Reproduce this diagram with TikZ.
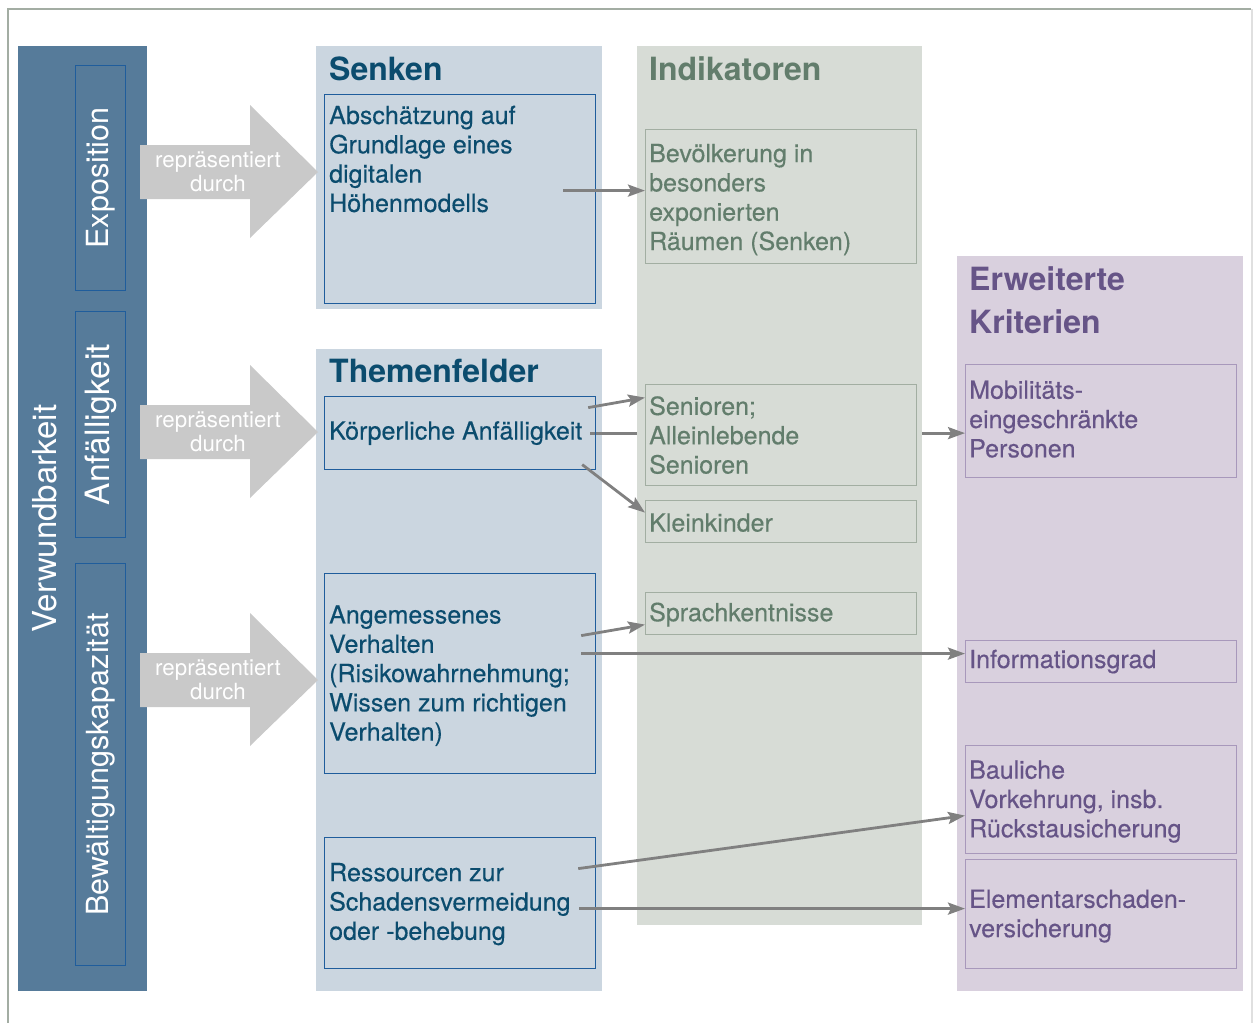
\documentclass[tikz,border=0pt]{standalone}
\usepackage{fontspec}
\setmainfont{TeX Gyre Heros}
\newfontfamily\heavyfam[FakeBold=0.35]{TeX Gyre Heros}
\usetikzlibrary{arrows.meta,calc}

\definecolor{framegreen}{HTML}{A3ADA3}
\definecolor{colblue}{HTML}{567B9A}
\definecolor{edgeblue}{HTML}{1F5D9C}
\definecolor{txtblue}{HTML}{0B4C6E}
\definecolor{senkbg}{HTML}{CBD6E0}
\definecolor{indbg}{HTML}{D7DCD6}
\definecolor{indtxt}{HTML}{627D6C}
\definecolor{indedge}{HTML}{A2AEA2}
\definecolor{erwbg}{HTML}{D9D0DE}
\definecolor{erwtxt}{HTML}{665487}
\definecolor{erwedge}{HTML}{A898BB}
\definecolor{blockgray}{HTML}{C9C9C9}
\definecolor{conngray}{HTML}{808080}

\pgfdeclarelayer{background}
\pgfdeclarelayer{behind}
\pgfsetlayers{background,behind,main}

\begin{document}
\begin{tikzpicture}[x=1pt,y=-1pt,
  bodyfont/.style={font=\heavyfam\fontsize{25}{29.3}\selectfont},
  titlefont/.style={font=\bfseries\fontsize{32}{43}\selectfont},
  box/.style={draw, line width=1.2pt, minimum width=271pt, inner sep=0pt, anchor=north west},
  themebox/.style={box, draw=edgeblue},
  indbox/.style={box, draw=indedge},
  erwbox/.style={box, draw=erwedge},
  colbox/.style={draw=edgeblue, line width=1.2pt, minimum width=50pt, inner sep=0pt, anchor=north west},
  themetext/.style={bodyfont, anchor=west, align=left, inner sep=0pt, text=txtblue},
  indtext/.style={bodyfont, anchor=west, align=left, inner sep=0pt, text=indtxt},
  erwtext/.style={bodyfont, anchor=west, align=left, inner sep=0pt, text=erwtxt},
  coltext/.style={rotate=90, text=white, inner sep=0pt, font=\fontsize{30.5}{34}\selectfont},
  reptext/.style={text=white, align=center, inner sep=0pt, font=\fontsize{22.3}{24}\selectfont},
  conn/.style={draw=conngray, line width=2.8pt, -{Stealth[length=17pt,width=12pt,inset=3pt]}}
]
\useasboundingbox (0,0) rectangle (1253,1023);

% outer frame
\draw[framegreen, line width=2.2pt] (8,1023) -- (8,9) -- (1251,9);
\draw[black!12, line width=1.2pt] (1252,9) -- (1252,1023);

% column backgrounds
\begin{pgfonlayer}{background}
  \fill[senkbg] (316,46) rectangle (602,309);
  \fill[senkbg] (316,349) rectangle (602,991);
  \fill[erwbg] (957,256) rectangle (1243,991);
\end{pgfonlayer}
\fill[indbg] (637,46) rectangle (922,925);

% left column: Verwundbarkeit
\fill[colblue] (18,46) rectangle (147,991);
\node[coltext, font=\fontsize{33}{36}\selectfont] (verw) at (45,518.5) {Verwundbarkeit};
\node[colbox, minimum height=225pt] (expo) at (75,65) {};
\node[colbox, minimum height=226pt] (anfael) at (75,311) {};
\node[colbox, minimum height=402pt] (bewael) at (75,563) {};
\node[coltext] (expotxt) at (expo.center) {Exposition};
\node[coltext, font=\fontsize{33.5}{36}\selectfont] (anfaeltxt) at (anfael.center) {Anfälligkeit};
\node[coltext] (bewaeltxt) at (bewael.center) {Bewältigungskapazität};

% block arrows "repräsentiert durch"
\foreach \dy [count=\i] in {0,260,508} {
  \fill[blockgray, shift={(0,\dy)}]
    (140,145) -- (250,145) -- (250,105) -- (318,172) -- (250,238) -- (250,199) -- (140,199) -- cycle;
  \node[reptext] (rep\i) at (218,172+\dy) {repräsentiert\\durch};
}

% titles
\node[titlefont, text=txtblue, anchor=base west, inner sep=0pt] (senktitle) at (329,80) {Senken};
\node[titlefont, text=txtblue, anchor=base west, inner sep=0pt] (themtitle) at (329,382) {Themenfelder};
\node[titlefont, text=indtxt, anchor=base west, inner sep=0pt] (indtitle) at (649,80) {Indikatoren};
\node[titlefont, text=erwtxt, anchor=west, align=left, inner sep=0pt] (erwtitle) at (969,300) {Erweiterte\\Kriterien};

% Senken / Themenfelder boxes
\node[themebox, minimum height=209pt] (senkbox) at (324,94) {};
\node[themetext] (senktxt) at (329,159) {Abschätzung auf\\Grundlage eines\\digitalen\\Höhenmodells};
\node[themebox, minimum height=73pt] (koerp) at (324,396) {};
\node[themetext] (koerptxt) at ([xshift=5pt]koerp.west) {Körperliche Anfälligkeit};
\node[themebox, minimum height=200pt] (angem) at (324,573) {};
\node[themetext] (angemtxt) at ([xshift=5pt,yshift=-2pt]angem.west) {Angemessenes\\Verhalten\\(Risikowahrnehmung;\\Wissen zum richtigen\\Verhalten)};
\node[themebox, minimum height=131pt] (ress) at (324,837) {};
\node[themetext] (resstxt) at ([xshift=5pt,yshift=-1pt]ress.west) {Ressourcen zur\\Schadensvermeidung\\oder -behebung};

% Indikatoren boxes
\node[indbox, minimum height=134pt] (bevoelk) at (645,129) {};
\node[indtext] (bevoelktxt) at ([xshift=4pt,yshift=-3pt]bevoelk.west) {Bevölkerung in\\besonders\\exponierten\\Räumen (Senken)};
\node[indbox, minimum height=101pt] (senioren) at (645,384) {};
\node[indtext] (seniorentxt) at ([xshift=4pt]senioren.west) {Senioren;\\Alleinlebende\\Senioren};
\node[indbox, minimum height=42pt] (klein) at (645,500) {};
\node[indtext] (kleintxt) at ([xshift=4pt,yshift=-1pt]klein.west) {Kleinkinder};
\node[indbox, minimum height=42pt] (sprach) at (645,592) {};
\node[indtext] (sprachtxt) at ([xshift=4pt,yshift=-1pt]sprach.west) {Sprachkentnisse};

% Erweiterte Kriterien boxes
\node[erwbox, minimum height=113pt] (mobil) at (965,364) {};
\node[erwtext] (mobiltxt) at ([xshift=4pt,yshift=2pt]mobil.west) {Mobilitäts-\\eingeschränkte\\Personen};
\node[erwbox, minimum height=42pt] (info) at (965,640) {};
\node[erwtext] (infotxt) at ([xshift=4pt]info.west) {Informationsgrad};
\node[erwbox, minimum height=108pt] (baul) at (965,745) {};
\node[erwtext] (baultxt) at ([xshift=4pt,yshift=-2pt]baul.west) {Bauliche\\Vorkehrung, insb.\\Rückstausicherung};
\node[erwbox, minimum height=109pt] (elem) at (965,859) {};
\node[erwtext] (elemtxt) at ([xshift=4pt,yshift=-2pt]elem.west) {Elementarschaden-\\versicherung};

% connector start points
\coordinate (senkout) at ([xshift=-33pt,yshift=8.5pt]senkbox.east);
\coordinate (koerpout) at ([xshift=-6pt]koerp.east);
\coordinate (angout) at ([xshift=-15pt,yshift=20pt]angem.east);
\coordinate (ressout) at ([xshift=-17pt,yshift=-5.5pt]ress.east);

% connectors
\draw[conn] (senkout) -- (bevoelk.west |- senkout);
\draw[conn] ([xshift=-8pt,yshift=25.5pt]koerp.east) -- ([yshift=37.5pt]senioren.west);
\begin{pgfonlayer}{behind}
  \draw[conn] (koerpout) -- (mobil.west |- koerpout);
\end{pgfonlayer}
\draw[conn] ([xshift=-14pt,yshift=-31.5pt]koerp.east) -- ([yshift=9pt]klein.west);
\draw[conn] ([xshift=-15pt,yshift=38pt]angem.east) -- ([yshift=-11pt]sprach.west);
\draw[conn] (angout) -- (info.west |- angout);
\draw[conn] ([xshift=-18pt,yshift=34.5pt]ress.east) -- ([yshift=-16pt]baul.west);
\draw[conn] (ressout) -- (elem.west |- ressout);
\end{tikzpicture}
\end{document}
